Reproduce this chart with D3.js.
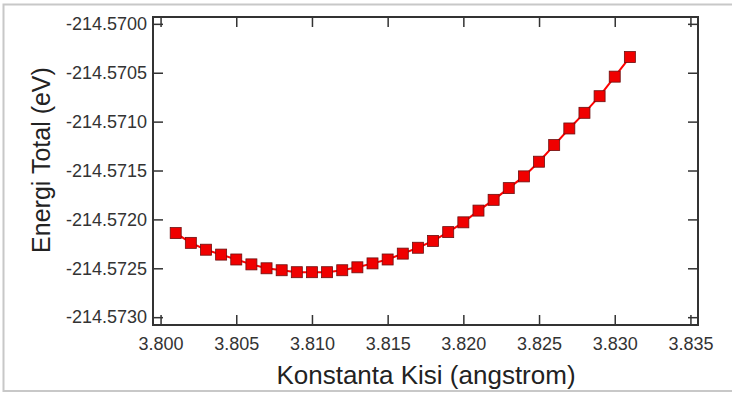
<!DOCTYPE html>
<html>
<head>
<meta charset="utf-8">
<script src="https://cdn.jsdelivr.net/npm/d3@7"></script>
<style>
  body { margin: 0; background: #fff; }
  svg { display: block; font-family: "Liberation Sans", Arial, sans-serif; }
</style>
</head>
<body>
<div id="container"></div>
<script>
// lattice constant (angstrom) and total energy (eV)
const latticeConst = [3.801, 3.802, 3.803, 3.804, 3.805, 3.806, 3.807, 3.808, 3.809, 3.810,
                      3.811, 3.812, 3.813, 3.814, 3.815, 3.816, 3.817, 3.818, 3.819, 3.820,
                      3.821, 3.822, 3.823, 3.824, 3.825, 3.826, 3.827, 3.828, 3.829, 3.830, 3.831];
const totalEnergy = [-214.57214, -214.57224, -214.57231, -214.57236, -214.57241, -214.57246,
                     -214.57250, -214.57252, -214.57254, -214.57254, -214.57254, -214.57252,
                     -214.57249, -214.57245, -214.57241, -214.57235, -214.57229, -214.57222,
                     -214.57213, -214.57203, -214.57191, -214.57180, -214.57168, -214.57156,
                     -214.57141, -214.57124, -214.57107, -214.57091, -214.57074, -214.57054,
                     -214.57034];
const xTicks = [3.800, 3.805, 3.810, 3.815, 3.820, 3.825, 3.830, 3.835];
const yTicks = [-214.5700, -214.5705, -214.5710, -214.5715, -214.5720, -214.5725, -214.5730];

const dataset = latticeConst.map((x, i) => ({x: x, y: totalEnergy[i]}));

const w = 732;
const h = 394;
const padL = 153, padR = 698, padT = 17, padB = 325;

const svg = d3.select("#container")
              .append("svg")
              .attr("width", w)
              .attr("height", h);

// light grey outer frame
svg.append("rect")
   .attr("x", 3.5).attr("y", 4.5)
   .attr("width", 740).attr("height", 386.5)
   .attr("fill", "none")
   .attr("stroke", "#c8c8c8")
   .attr("stroke-width", 2);

const xScale = d3.scaleLinear().domain([3.7995, 3.8355]).range([padL, padR]);
const yScale = d3.scaleLinear().domain([-214.57308, -214.56993]).range([padB, padT]);

const tickLen = 10;

const xAxis = d3.axisBottom(xScale).tickValues(xTicks).tickFormat(d3.format(".3f"))
                .tickSizeInner(-tickLen).tickSizeOuter(0).tickPadding(12);
const xAxisTop = d3.axisTop(xScale).tickValues(xTicks).tickFormat("")
                .tickSizeInner(-tickLen).tickSizeOuter(0);
const yAxis = d3.axisLeft(yScale).tickValues(yTicks).tickFormat(d => d.toFixed(4))
                .tickSizeInner(-tickLen).tickSizeOuter(0).tickPadding(6);
const yAxisRight = d3.axisRight(yScale).tickValues(yTicks).tickFormat("")
                .tickSizeInner(-tickLen).tickSizeOuter(0);

function styleAxis(g) {
  g.select(".domain").remove();
  g.selectAll(".tick line").attr("stroke", "#333").attr("stroke-width", 1.5);
  g.selectAll(".tick text").attr("fill", "#333").style("font-size", "18px")
   .style("font-family", "'Liberation Sans', Arial, sans-serif");
}

svg.append("g").attr("id", "x-axis")
   .attr("transform", "translate(0," + padB + ")")
   .call(xAxis).call(styleAxis);
svg.append("g")
   .attr("transform", "translate(0," + padT + ")")
   .call(xAxisTop).call(styleAxis);
svg.append("g").attr("id", "y-axis")
   .attr("transform", "translate(" + padL + ",0)")
   .call(yAxis).call(styleAxis);
svg.append("g")
   .attr("transform", "translate(" + padR + ",0)")
   .call(yAxisRight).call(styleAxis);

// plot frame
svg.append("rect")
   .attr("x", padL).attr("y", padT)
   .attr("width", padR - padL).attr("height", padB - padT)
   .attr("fill", "none")
   .attr("stroke", "#333")
   .attr("stroke-width", 2);

const line = d3.line().x(d => xScale(d.x)).y(d => yScale(d.y));

svg.append("path")
   .datum(dataset)
   .attr("d", line)
   .attr("fill", "none")
   .attr("stroke", "#ff0000")
   .attr("stroke-width", 2);

const size = 11;
svg.selectAll("rect.pt")
   .data(dataset)
   .enter()
   .append("rect")
   .attr("class", "pt")
   .attr("x", d => xScale(d.x) - size / 2)
   .attr("y", d => yScale(d.y) - size / 2)
   .attr("width", size)
   .attr("height", size)
   .attr("fill", "#f00000")
   .attr("stroke", "#6b1010")
   .attr("stroke-width", 0.8);

// axis titles
svg.append("text")
   .attr("x", 426)
   .attr("y", 384)
   .attr("text-anchor", "middle")
   .attr("fill", "#222")
   .style("font-size", "26px")
   .text("Konstanta Kisi (angstrom)");

svg.append("text")
   .attr("transform", "translate(50,160) rotate(-90)")
   .attr("text-anchor", "middle")
   .attr("fill", "#222")
   .style("font-size", "25px")
   .text("Energi Total (eV)");
</script>
</body>
</html>
